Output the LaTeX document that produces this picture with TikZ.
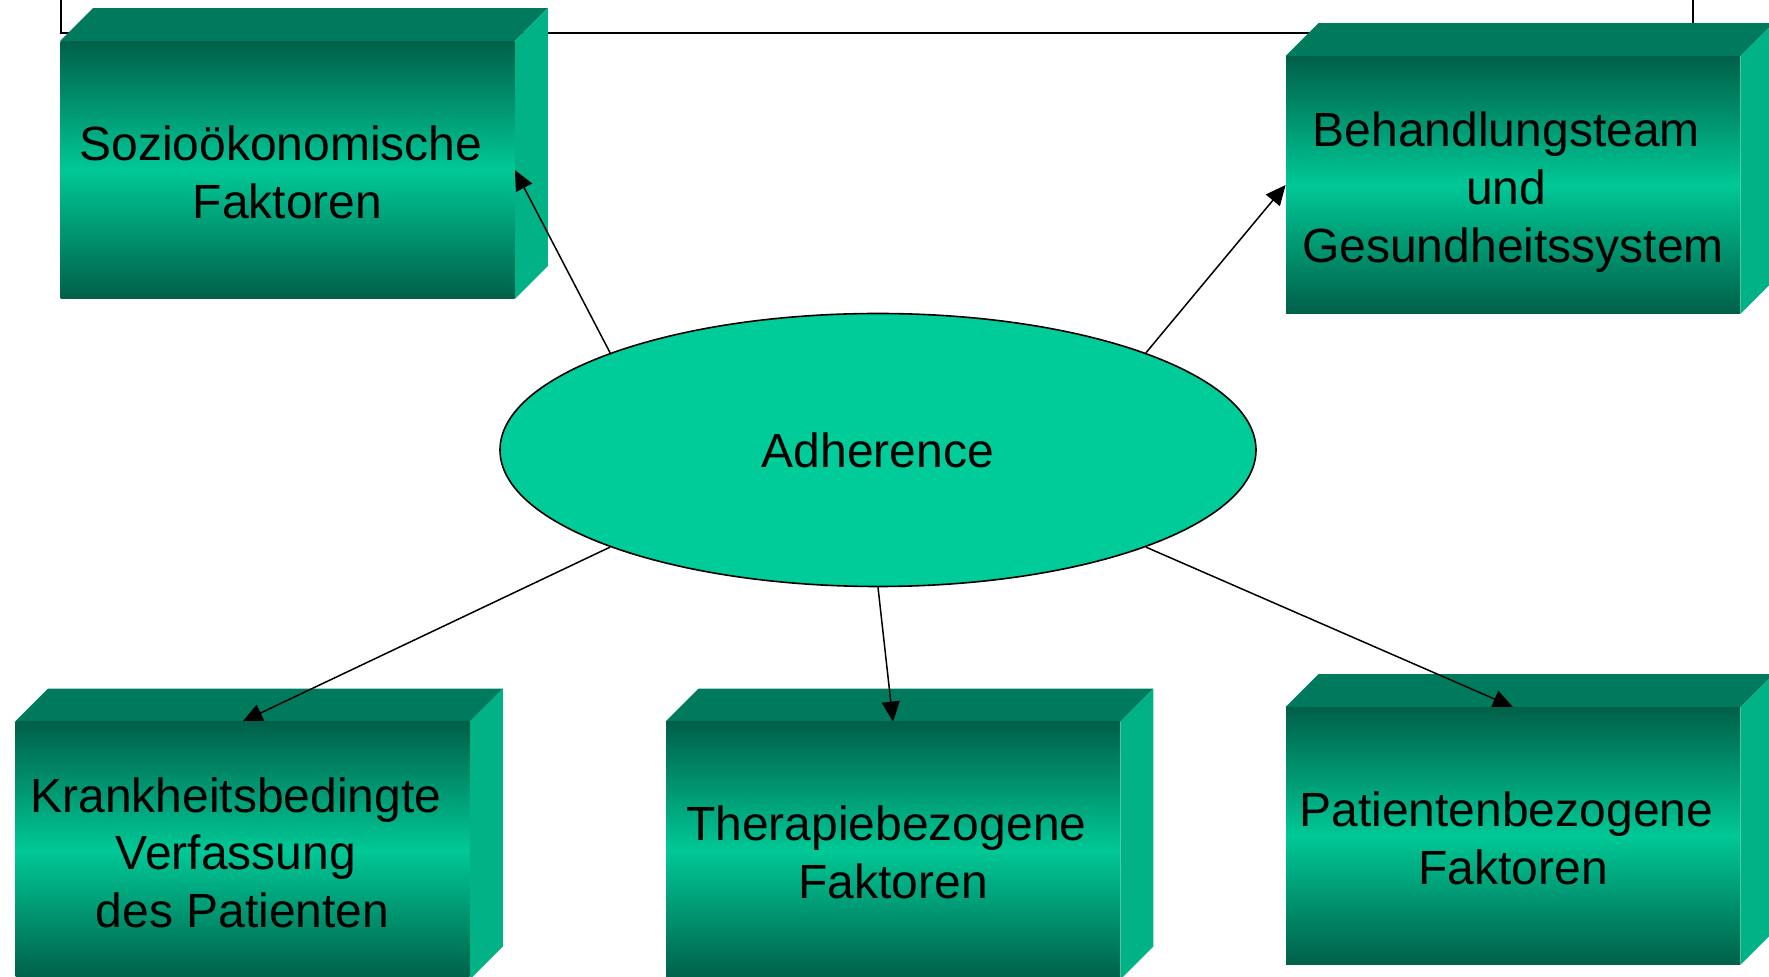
\documentclass[tikz,border=0pt]{standalone}
\usepackage{fontspec}
\setmainfont{Liberation Sans}
\usetikzlibrary{shapes.geometric,arrows.meta}

\pgfdeclarelayer{bg}
\pgfdeclarelayer{sides}
\pgfdeclarelayer{fg}
\pgfsetlayers{bg,sides,main,fg}

\definecolor{boxdark}{RGB}{0,96,72}
\definecolor{boxlight}{RGB}{0,200,150}
\definecolor{boxtop}{RGB}{0,122,92}
\definecolor{boxside}{RGB}{0,178,134}
\definecolor{ovalfill}{RGB}{0,204,153}

\tikzset{
  labelfont/.style={font=\fontsize{24}{28.8}\selectfont},
  frontface/.style={rectangle, inner sep=0pt, minimum width=227pt,
    minimum height=128.5pt, top color=boxdark, bottom color=boxdark,
    middle color=boxlight, align=center, labelfont},
  topface/.style={fill=boxtop},
  sideface/.style={fill=boxside},
  oval/.style={ellipse, draw, line width=0.8pt, fill=ovalfill,
    minimum width=378pt, minimum height=136.5pt, inner sep=0pt, labelfont},
  conn/.style={line width=0.75pt, -{Triangle[length=10pt,width=9pt]}},
  framefrom/.style={line width=0.8pt}
}

% top and right faces of a block, given the name of its front face
\newcommand\blockfaces[1]{%
  \fill[topface] (#1.north west) -- ([shift={(33,-33)}]#1.north west)
    -- ([shift={(33,-33)}]#1.north east) -- (#1.north east) -- cycle;
  \fill[sideface] (#1.north east) -- ([shift={(33,-33)}]#1.north east)
    -- ([shift={(33,-33)}]#1.south east) -- (#1.south east) -- cycle;}
% a trailing word space that survives the line break
\newcommand\trailsp{\makebox[0.278em]{}}
% strut on the first line of a label
\newcommand\firstline[1]{\rule{0pt}{#1}}

\begin{document}
\begin{tikzpicture}[x=0.5pt, y=-0.5pt]
  \clip (0,0) rectangle (1769,977);

  % front faces
  \begin{pgfonlayer}{fg}
    \node[frontface] (soz)   at (287.5,170)
      {\firstline{19.5pt}Sozioökonomische\trailsp\\Faktoren};
    \node[frontface] (beh)   at (1513,185)
      {\firstline{24.5pt}Behandlungsteam\trailsp\\und\trailsp\\Gesundheitssystem};
    \node[frontface] (krank) at (242.5,850.5)
      {\firstline{19.5pt}Krankheitsbedingte\trailsp\\Verfassung\trailsp\\des Patienten};
    \node[frontface] (ther)  at (893,850.5)
      {\firstline{19.5pt}Therapiebezogene\trailsp\\Faktoren};
    \node[frontface] (pat)   at (1513,836)
      {\firstline{19.5pt}Patientenbezogene\trailsp\\Faktoren};
  \end{pgfonlayer}

  % surrounding frame
  \begin{pgfonlayer}{bg}
    \draw[framefrom] (61,-20) rectangle (1693,33);
  \end{pgfonlayer}

  % depth faces
  \begin{pgfonlayer}{sides}
    \blockfaces{soz}
    \blockfaces{beh}
    \blockfaces{krank}
    \blockfaces{ther}
    \blockfaces{pat}
  \end{pgfonlayer}

  % centre
  \node[oval] (adh) at (878,450) {Adherence};

  % connectors
  \draw[conn] (adh.north west) -- (soz.east);
  \draw[conn] (adh.north east) -- (beh.west);
  \draw[conn] (adh.south west) -- (krank.north);
  \draw[conn] (adh.south)      -- (ther.north);
  \draw[conn] (adh.south east) -- (pat.north);
\end{tikzpicture}
\end{document}
